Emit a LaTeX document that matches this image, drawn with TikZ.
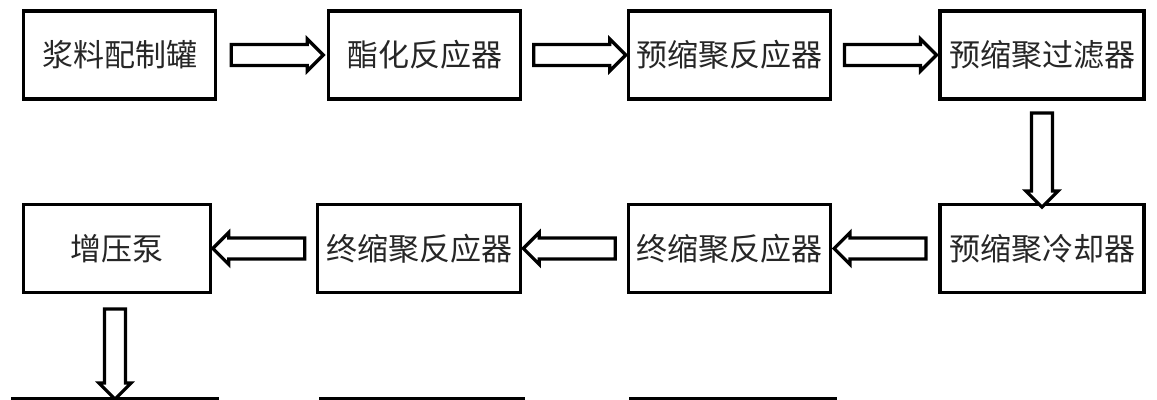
\documentclass[tikz,border=0pt]{standalone}
\usepackage{fontspec}
\setmainfont{Noto Sans CJK SC}
\usepackage{tikz}
\usetikzlibrary{shapes.arrows, positioning, calc}

\begin{document}
\begin{tikzpicture}[x=0.5pt, y=-0.5pt,
    unit/.style={draw, line width=1.6pt, fill=white, minimum height=44pt, inner sep=0pt,
                 font=\fontsize{15.5}{18}\selectfont, text=black!85},
    flowarrow/.style={single arrow, draw, line width=1.6pt, fill=white, inner sep=3pt,
                      minimum height=46pt, minimum width=16pt, single arrow head extend=2pt,
                      single arrow head indent=0pt, sloped, allow upside down, midway}]
  \useasboundingbox (0,0) rectangle (1157,400);
  \clip (0,0) rectangle (1157,400);
  \fill[white] (0,0) rectangle (1157,400);
  % first row
  \node[unit, minimum width=96pt] (slurry) at (119.5,55) {浆料配制罐};
  \node[unit, minimum width=96pt] (ester) at (424.5,55) {酯化反应器};
  \node[unit, minimum width=101pt] (prepoly) at (729.5,55) {预缩聚反应器};
  \node[unit, minimum width=102pt] (filter) at (1042,55) {预缩聚过滤器};
  % second row
  \node[unit, minimum width=93.5pt] (booster) at (117,248.5) {增压泵};
  \node[unit, minimum width=101.5pt] (finalA) at (419,248.5) {终缩聚反应器};
  \node[unit, minimum width=101pt] (finalB) at (729.5,248.5) {终缩聚反应器};
  \node[unit, minimum width=102pt] (cooler) at (1042,248.5) {预缩聚冷却器};
  % third row, cut off by the frame
  \node[unit, minimum width=102.5pt] (nextA) at (115,443) {};
  \node[unit, minimum width=101.5pt] (nextB) at (422,443) {};
  \node[unit, minimum width=102.5pt] (nextC) at (733,443) {};
  % hollow arrows
  \path (slurry) -- node[flowarrow] {} (ester);
  \path (ester) -- node[flowarrow] {} (prepoly);
  \path (prepoly) -- node[flowarrow] {} (filter);
  \path (filter.south) -- node[flowarrow, minimum height=47pt, pos=0.53] {} (cooler.north);
  \path (cooler) -- node[flowarrow] {} (finalB);
  \path (finalB) -- node[flowarrow] {} (finalA);
  \path (finalA) -- node[flowarrow] {} (booster);
  \path (booster.south -| nextA.north) -- node[flowarrow, minimum height=45pt, pos=0.53] {} (nextA.north);
\end{tikzpicture}
\end{document}
